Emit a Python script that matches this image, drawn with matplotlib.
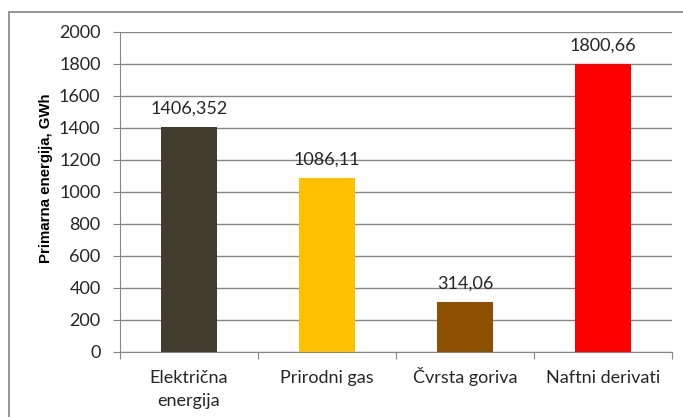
import numpy as np
import matplotlib.pyplot as plt
from matplotlib.patches import Rectangle

# Podaci
kategorije = [["Električna", "energija"], ["Prirodni gas"], ["Čvrsta goriva"], ["Naftni derivati"]]
vrijednosti = [1406.352, 1086.11, 314.06, 1800.66]
oznake = ["1406,352", "1086,11", "314,06", "1800,66"]
boje = ["#403d2f", "#ffc000", "#8c5000", "#ff0000"]
y_ticks = [0, 200, 400, 600, 800, 1000, 1200, 1400, 1600, 1800, 2000]

plt.rcParams['font.family'] = ['Lato', 'DejaVu Sans']

W, H = 683, 417
fig = plt.figure(figsize=(W / 100, H / 100), dpi=100)

# okvir grafikona (odrezan desno i dolje)
fig.patches.append(Rectangle((8.5 / W, -0.1), 1.2, 1 - 11.5 / H + 0.1,
                             transform=fig.transFigure, fill=False,
                             edgecolor="#8c8c8c", linewidth=1.3))

ax = fig.add_axes([120 / W, 1 - 352 / H, (672 - 120) / W, (352 - 32) / H])

x = np.arange(len(kategorije))
ax.bar(x, vrijednosti, width=0.405, color=boje, zorder=3)

for xi, v, t in zip(x, vrijednosti, oznake):
    ax.annotate(t, (xi, v), xytext=(0, 9.5), textcoords="offset points",
                ha="center", va="baseline", fontsize=13, color="#262626")

ax.set_xlim(-0.5, len(kategorije) - 0.5)
ax.set_ylim(0, 2000)
ax.set_yticks(y_ticks)
ax.tick_params(axis="y", labelsize=13, colors="#262626", length=5,
               color="#868686", pad=9)
ax.set_xticks(np.arange(len(kategorije) + 1) - 0.5)
ax.set_xticklabels([])
ax.tick_params(axis="x", length=5, color="#868686")

# oznake kategorija, red po red
for xi, redovi in zip(x, kategorije):
    for j, red in enumerate(redovi):
        ax.annotate(red, (xi, 0), xytext=(0, -22.3 - j * 16.6),
                    textcoords="offset points", ha="center", va="baseline",
                    fontsize=13, color="#262626", annotation_clip=False)

ax.yaxis.grid(True, color="#868686", linewidth=1, zorder=0)
for s in ["top", "right"]:
    ax.spines[s].set_visible(False)
for s in ["left", "bottom"]:
    ax.spines[s].set_color("#868686")

# naziv osi y
fig.text(46 / W, 1 - 178 / H, "Primarna energija, GWh", rotation=90,
         ha="center", va="center", fontsize=10.8, fontweight="bold",
         family=["Liberation Sans"], color="black")

plt.savefig("out.png", dpi=100)
